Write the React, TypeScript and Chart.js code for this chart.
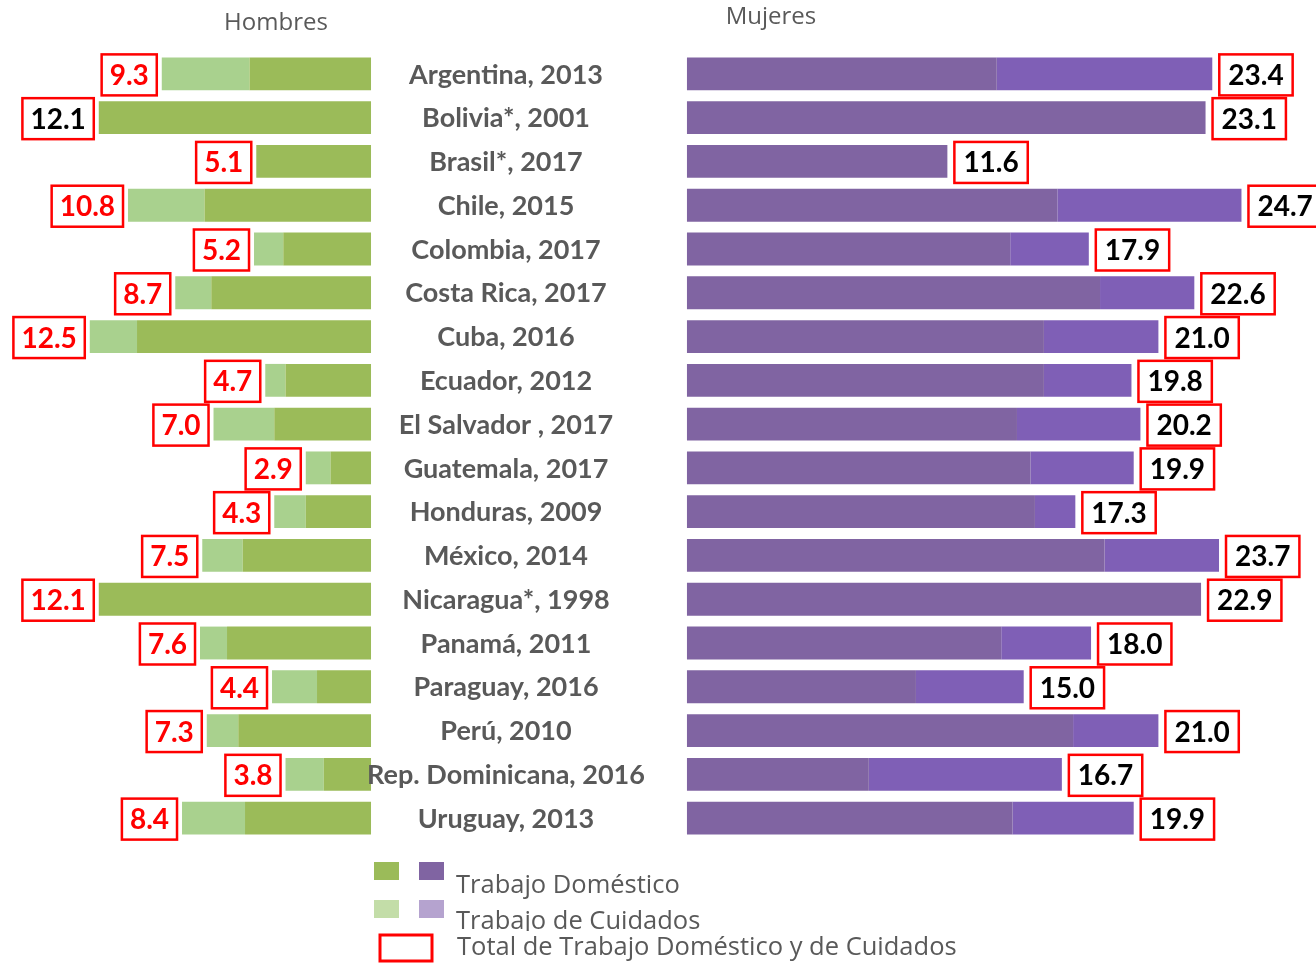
import React, { useEffect, useRef } from 'react';
import { Chart, registerables } from 'chart.js';

Chart.register(...registerables);

const categories = [
  'Argentina, 2013',
  'Bolivia*, 2001',
  'Brasil*, 2017',
  'Chile, 2015',
  'Colombia, 2017',
  'Costa Rica, 2017',
  'Cuba, 2016',
  'Ecuador, 2012',
  'El Salvador , 2017',
  'Guatemala, 2017',
  'Honduras, 2009',
  'México, 2014',
  'Nicaragua*, 1998',
  'Panamá, 2011',
  'Paraguay, 2016',
  'Perú, 2010',
  'Rep. Dominicana, 2016',
  'Uruguay, 2013',
];

const menDomestic = [5.4, 12.1, 5.1, 7.4, 3.9, 7.1, 10.4, 3.8, 4.3, 1.8, 2.9, 5.7, 12.1, 6.4, 2.4, 5.9, 2.1, 5.6];
const menCare = [3.9, 0, 0, 3.4, 1.3, 1.6, 2.1, 0.9, 2.7, 1.1, 1.4, 1.8, 0, 1.2, 2.0, 1.4, 1.7, 2.8];
const womenDomestic = [13.8, 23.1, 11.6, 16.5, 14.4, 18.4, 15.9, 15.9, 14.7, 15.3, 15.5, 18.6, 22.9, 14.0, 10.2, 17.2, 8.1, 14.5];
const womenCare = [9.6, 0, 0, 8.2, 3.5, 4.2, 5.1, 3.9, 5.5, 4.6, 1.8, 5.1, 0, 4.0, 4.8, 3.8, 8.6, 5.4];

// label text colour for the men's totals (Bolivia is printed in black)
const menLabelColors = ['#FF0000', '#000000', '#FF0000', '#FF0000', '#FF0000', '#FF0000', '#FF0000', '#FF0000', '#FF0000', '#FF0000', '#FF0000', '#FF0000', '#FF0000', '#FF0000', '#FF0000', '#FF0000', '#FF0000', '#FF0000'];

const panelTitles = ['Hombres', 'Mujeres'];
const legendLabels = ['Trabajo Doméstico', 'Trabajo de Cuidados', 'Total de Trabajo Doméstico y de Cuidados'];

const GREEN_DOM = '#9BBB59';
const GREEN_CARE = '#A9D18E';
const PURPLE_DOM = '#8064A2';
const PURPLE_CARE = '#7F5FB6';
const GRAY = '#595959';

const overlayPlugin = {
  id: 'overlay',
  afterDatasetsDraw(chart: any) {
    const ctx = chart.ctx as CanvasRenderingContext2D;
    const y = chart.scales.y;
    const xL = chart.scales.xL;
    const xR = chart.scales.xR;
    ctx.save();

    // category names in the middle
    ctx.font = 'bold 27px Lato';
    ctx.fillStyle = GRAY;
    ctx.textAlign = 'center';
    ctx.textBaseline = 'middle';
    categories.forEach((c, i) => {
      ctx.fillText(c, 506, y.getPixelForValue(i) + 1);
    });

    // total labels in red boxes
    ctx.font = 'bold 28px Lato';
    const bh = 41;
    for (let i = 0; i < categories.length; i++) {
      const cy = y.getPixelForValue(i) + 1;
      // men
      const tm = menDomestic[i] + menCare[i];
      const txtM = tm.toFixed(1);
      const wM = ctx.measureText(txtM).width + 16;
      const rightM = xL.getPixelForValue(tm) - 5;
      ctx.fillStyle = '#FFFFFF';
      ctx.fillRect(rightM - wM, cy - bh / 2, wM, bh);
      ctx.strokeStyle = '#FF0000';
      ctx.lineWidth = 2.5;
      ctx.strokeRect(rightM - wM, cy - bh / 2, wM, bh);
      ctx.fillStyle = menLabelColors[i];
      ctx.fillText(txtM, rightM - wM / 2, cy + 1);
      // women
      const tw = womenDomestic[i] + womenCare[i];
      const txtW = tw.toFixed(1);
      const wW = ctx.measureText(txtW).width + 18;
      const leftW = xR.getPixelForValue(tw) + 7;
      ctx.fillStyle = '#FFFFFF';
      ctx.fillRect(leftW, cy - bh / 2, wW, bh);
      ctx.strokeStyle = '#FF0000';
      ctx.strokeRect(leftW, cy - bh / 2, wW, bh);
      ctx.fillStyle = '#000000';
      ctx.fillText(txtW, leftW + wW / 2, cy + 1);
    }

    // panel titles
    ctx.font = '24px "Open Sans"';
    ctx.fillStyle = GRAY;
    ctx.fillText(panelTitles[0], 276, 23);
    ctx.fillText(panelTitles[1], 771, 17);

    // legend
    ctx.fillStyle = GREEN_DOM;
    ctx.fillRect(374, 862, 25, 18);
    ctx.fillStyle = PURPLE_DOM;
    ctx.fillRect(419, 862, 25, 18);
    ctx.fillStyle = '#C3DDA8';
    ctx.fillRect(374, 900, 25, 18);
    ctx.fillStyle = '#B5A3CF';
    ctx.fillRect(419, 900, 25, 18);
    ctx.strokeStyle = '#FF0000';
    ctx.lineWidth = 3;
    ctx.strokeRect(380, 935, 52, 26);

    ctx.font = '25.5px "Open Sans"';
    ctx.fillStyle = GRAY;
    ctx.textAlign = 'left';
    ctx.fillText(legendLabels[0], 456, 886);
    ctx.save();
    ctx.beginPath();
    ctx.rect(0, 0, 1316, 931);
    ctx.clip();
    ctx.fillText(legendLabels[1], 456, 922);
    ctx.restore();
    ctx.fillText(legendLabels[2], 457, 948);

    ctx.restore();
  },
};

export default function App() {
  const ref = useRef<HTMLCanvasElement | null>(null);

  useEffect(() => {
    if (!ref.current) return;
    const common = {
      stack: 's',
      categoryPercentage: 1,
      barPercentage: 0.75,
      borderWidth: 0,
      yAxisID: 'y',
    };
    const chart = new Chart(ref.current, {
      type: 'bar',
      data: {
        labels: categories,
        datasets: [
          { ...common, label: 'Hombres Trabajo Doméstico', data: menDomestic, backgroundColor: GREEN_DOM, xAxisID: 'xL' },
          { ...common, label: 'Hombres Trabajo de Cuidados', data: menCare, backgroundColor: GREEN_CARE, xAxisID: 'xL' },
          { ...common, label: 'Mujeres Trabajo Doméstico', data: womenDomestic, backgroundColor: PURPLE_DOM, xAxisID: 'xR' },
          { ...common, label: 'Mujeres Trabajo de Cuidados', data: womenCare, backgroundColor: PURPLE_CARE, xAxisID: 'xR' },
        ],
      } as any,
      options: {
        indexAxis: 'y',
        responsive: false,
        animation: false,
        layout: { padding: { top: 52, bottom: 123, left: 0, right: 0 } },
        plugins: { legend: { display: false }, tooltip: { enabled: false } },
        scales: {
          y: { type: 'category', display: false, offset: true, grid: { display: false } },
          xL: { type: 'linear', axis: 'x', position: 'bottom', reverse: true, min: -42.0, max: 16.49, stacked: true, display: false },
          xR: { type: 'linear', axis: 'x', position: 'bottom', min: -30.6, max: 28.02, stacked: true, display: false },
        },
      } as any,
      plugins: [overlayPlugin],
    });
    return () => chart.destroy();
  }, []);

  return (
    <canvas
      ref={ref}
      width={1316}
      height={963}
      style={{ position: 'absolute', left: 0, top: 0, width: 1316, height: 963 }}
    />
  );
}
